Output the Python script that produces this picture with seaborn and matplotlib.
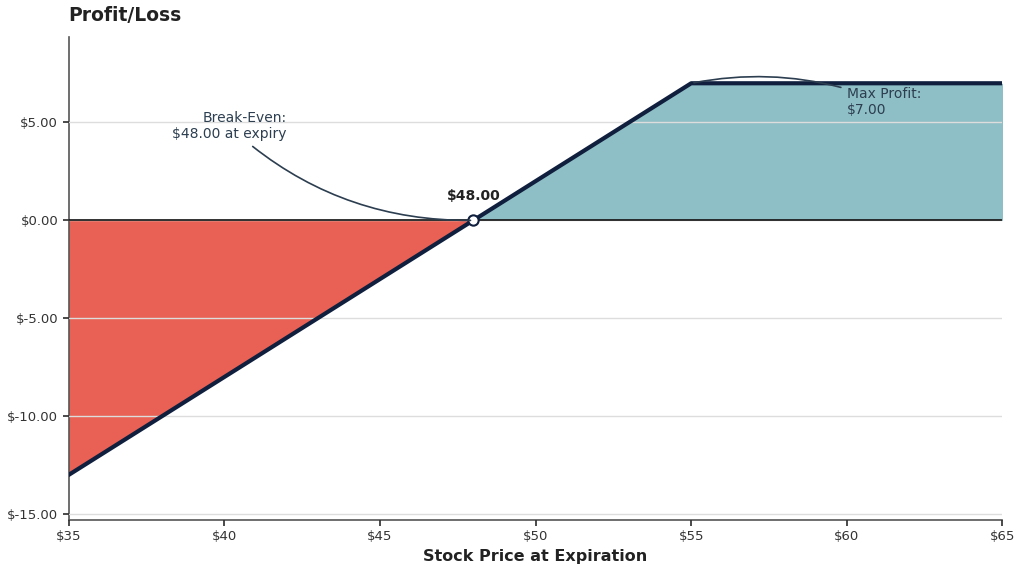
import numpy as np
import pandas as pd
import matplotlib
matplotlib.use('Agg')
import matplotlib.pyplot as plt
import seaborn as sns

# Payoff corner points
prices = [35, 48, 55, 65]
pnl = [-13.0, 0.0, 7.0, 7.0]
break_even = 48.0
max_profit = 7.0
cap_price = 55
x_ticks = [35, 40, 45, 50, 55, 60, 65]
y_ticks = [-15, -10, -5, 0, 5]

sns.set_theme(style='white')
plt.rcParams['font.family'] = ['DejaVu Sans']

df = pd.DataFrame({'price': prices, 'pnl': pnl})
x = np.array(prices, dtype=float)
y = np.array(pnl, dtype=float)

fig, ax = plt.subplots(figsize=(10.24, 5.73), dpi=100)
fig.subplots_adjust(left=0.067, right=0.979, top=0.935, bottom=0.0925)

loss_color = '#E85C4E'
gain_color = '#8BBDC4'
line_color = '#0F1F3D'
text_color = '#2C3E50'

# fills: split at break-even
xl = x[x <= break_even]
yl = y[x <= break_even]
xg = x[x >= break_even]
yg = y[x >= break_even]
ax.fill_between(xl, yl, 0, color=loss_color, alpha=0.97, zorder=1, linewidth=0)
ax.fill_between(xg, yg, 0, color=gain_color, alpha=0.97, zorder=1, linewidth=0)

ax.yaxis.grid(True, color='#DDDDDD', linewidth=1, zorder=2)
ax.set_axisbelow(False)

ax.axhline(0, color='#111111', linewidth=1.2, zorder=3)
sns.lineplot(data=df, x='price', y='pnl', color=line_color, linewidth=3, ax=ax, zorder=4)

ax.scatter([break_even], [0], s=55, facecolor='white', edgecolor=line_color, linewidth=1.5, zorder=6)
ax.text(break_even, 0.9, f'${break_even:.2f}', ha='center', va='bottom',
        fontsize=10, fontweight='bold', color='#222222', zorder=6)

ax.annotate(f'Break-Even:\n${break_even:.2f} at expiry', xy=(break_even, 0), xytext=(42.0, 4.8),
            ha='right', va='center', fontsize=10, color=text_color,
            arrowprops=dict(arrowstyle='-', color=text_color, lw=1.2,
                            connectionstyle='arc3,rad=0.2'), zorder=6)
ax.annotate(f'Max Profit:\n${max_profit:.2f}', xy=(cap_price, max_profit), xytext=(60.0, 6.05),
            ha='left', va='center', fontsize=10, color=text_color,
            arrowprops=dict(arrowstyle='-', color=text_color, lw=1.2,
                            connectionstyle='arc3,rad=0.15'), zorder=6)

ax.set_xlim(35, 65)
ax.set_ylim(-15.3, 9.35)
ax.set_xticks(x_ticks)
ax.set_xticklabels([f'${v}' for v in x_ticks])
ax.set_yticks(y_ticks)
ax.set_yticklabels([f'${v:.2f}' for v in y_ticks])
ax.tick_params(axis='both', labelsize=9.5, colors='#333333', length=4, left=True, bottom=True)

for s in ['top', 'right']:
    ax.spines[s].set_visible(False)
for s in ['left', 'bottom']:
    ax.spines[s].set_color('#555555')
    ax.spines[s].set_linewidth(1.2)

ax.set_xlabel('Stock Price at Expiration', fontsize=11.5, fontweight='bold', color='#222222')
ax.set_ylabel('')
ax.set_title('Profit/Loss', loc='left', fontsize=13.5, fontweight='bold', color='#222222', pad=12)

fig.savefig('out.png', dpi=100)
